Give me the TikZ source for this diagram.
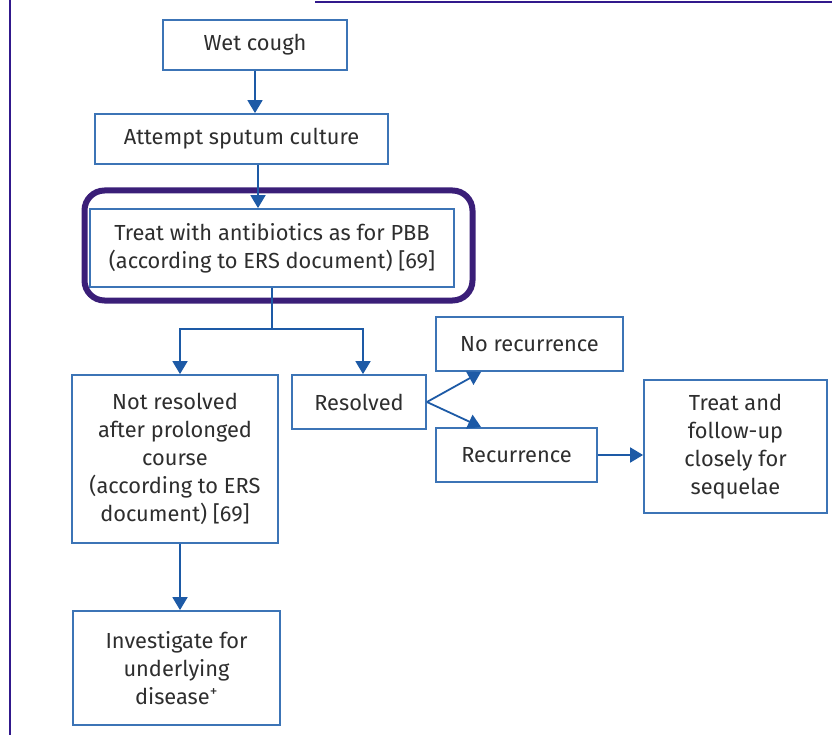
\documentclass[tikz,border=0pt]{standalone}
\usepackage{fontspec}
\setmainfont{Fira Sans}
\usetikzlibrary{arrows.meta,calc}
\definecolor{boxblue}{HTML}{3C74B6}
\definecolor{arrowblue}{HTML}{1D5AA6}
\definecolor{framepurple}{HTML}{3A1E78}
\definecolor{txt}{HTML}{2E2E2E}
\tikzset{
  x=1pt, y=-1pt,
  flowbox/.style={draw=boxblue, line width=1.8pt, fill=white, text=txt,
    align=center, inner sep=0pt,
    font=\fontsize{21.8}{28}\selectfont},
  link/.style={draw=arrowblue, line width=1.8pt},
  arr/.style={link, -{Triangle[length=13pt,width=15pt]}},
}
\begin{document}
\begin{tikzpicture}
\useasboundingbox (0,0) rectangle (832,735);

% page rules
\draw[framepurple!85!blue, line width=2.5pt] (10,0) -- (10,735);
\draw[framepurple!85!blue, line width=2.5pt] (315,2) -- (832,2);

% boxes
\node[flowbox, minimum width=184pt, minimum height=50pt] (wet) at (255,45) {Wet cough};
\node[flowbox, minimum width=293pt, minimum height=50pt] (sputum) at (241.5,139) {Attempt sputum culture};
\node[flowbox, minimum width=364pt, minimum height=78pt] (treat) at (272,248)
  {Treat with antibiotics as for PBB\\(according to ERS document) [69]};
\node[flowbox, minimum width=206pt, minimum height=168pt] (notres) at (175,459)
  {Not resolved\\after prolonged\\course\\(according to ERS\\document) [69]};
\node[flowbox, minimum width=134pt, minimum height=54pt] (resolved) at (359,402) {Resolved};
\node[flowbox, minimum width=187pt, minimum height=54pt] (norec) at (529.5,344) {No recurrence};
\node[flowbox, minimum width=161pt, minimum height=54pt] (rec) at (516.5,455) {Recurrence};
\node[flowbox, minimum width=183pt, minimum height=133pt] (follow) at (735.5,446.5)
  {Treat and\\follow-up\\closely for\\sequelae};
\node[flowbox, minimum width=207pt, minimum height=114pt] (invest) at (176.5,668)
  {Investigate for\\underlying\\disease\textsuperscript{+}};

% highlight frame round the treatment step
\draw[framepurple, line width=6pt, rounded corners=20pt] (84.5,190.5) rectangle (472.5,300.5);

% connectors
\coordinate (c1) at ($(sputum.south)+(16.5,0)$);
\coordinate (split) at (treat.south |- 0,329);
\draw[arr] (wet.south) -- (wet.south |- sputum.north);
\draw[arr] (c1) -- (c1 |- treat.north);
\draw[link] (treat.south) -- (split);
\draw[arr] (split) -| ($(notres.north)+(5,0)$);
\draw[arr] (split) -| ($(resolved.north)+(4,0)$);
\draw[arr] (resolved.east) -- ($(norec.south west)+(46,0)$);
\draw[arr] (resolved.east) -- ($(rec.north west)+(46,0)$);
\draw[arr] (rec.east) -- (rec.east -| follow.west);
\draw[arr] ($(notres.south)+(5,0)$) -- ($(invest.north)+(3.5,0)$);
\end{tikzpicture}
\end{document}
